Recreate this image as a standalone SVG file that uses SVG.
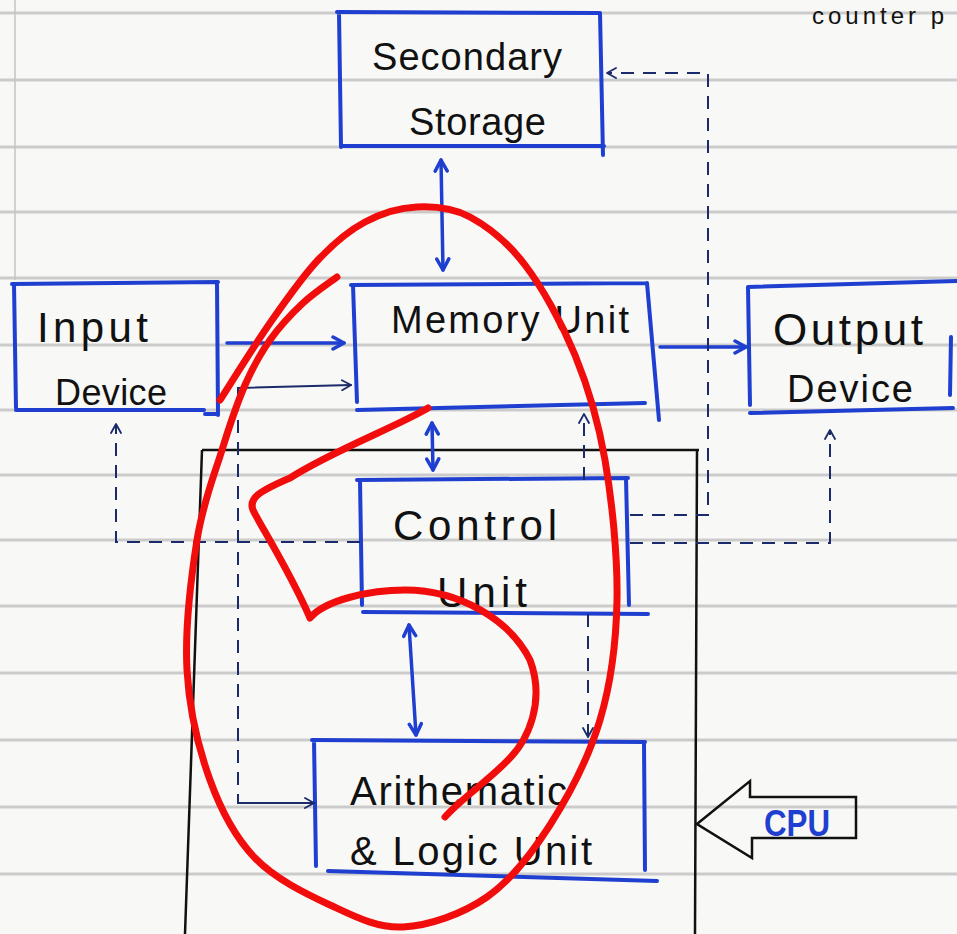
<svg xmlns="http://www.w3.org/2000/svg" width="957" height="934" viewBox="0 0 957 934">
<style>
.paper{stroke:#b9b9b9;stroke-width:3;opacity:0.7}
.box{fill:none;stroke:#1f3fd0;stroke-width:4;stroke-linecap:round;stroke-linejoin:round}
.lbl{font-family:"Liberation Sans",Arial,sans-serif;fill:#111}
.blue{fill:none;stroke:#1f3fd0;stroke-width:3.5;stroke-linecap:round}
.thin{fill:none;stroke:#1b2a6b;stroke-width:2;stroke-linecap:round}
.dash{fill:none;stroke:#1b2a6b;stroke-width:2;stroke-dasharray:13 9}
.cpu{fill:none;stroke:#111;stroke-width:2.5;stroke-linejoin:miter}
.red{fill:none;stroke:#f20d0d;stroke-width:7;stroke-linecap:round;stroke-linejoin:round}
</style>
<defs>
<marker id="hb" viewBox="0 0 16 16" refX="14" refY="8" markerWidth="16" markerHeight="16" markerUnits="userSpaceOnUse" orient="auto-start-reverse">
<path d="M3,2 L14,8 L3,14" fill="none" stroke="#1f3fd0" stroke-width="3.5" stroke-linecap="round" stroke-linejoin="round"/>
</marker>
<marker id="hn" viewBox="0 0 12 12" refX="11" refY="6" markerWidth="12" markerHeight="12" markerUnits="userSpaceOnUse" orient="auto-start-reverse">
<path d="M2,1 L11,6 L2,11" fill="none" stroke="#1b2a6b" stroke-width="1.8" stroke-linecap="round" stroke-linejoin="round"/>
</marker>
</defs>
<rect x="0" y="0" width="957" height="934" fill="#f8f8f6"/>
<g id="paper">
<path class="paper" d="M0,13 H957 M0,80 H957 M0,147 H957 M0,212 H957 M0,278 H957 M0,345 H957 M0,410 H957 M0,475 H957 M0,540 H957 M0,606 H957 M0,673 H957 M0,740 H957 M0,807 H957 M0,874 H957"/>
<path d="M15,0 L15,280" stroke="#c4c4c4" stroke-width="1.5"/>
<text class="lbl" x="812" y="24" font-size="24" textLength="132">counter p</text>
</g>
<g id="cpu-box">
<path class="cpu" d="M202,450 L699,450 M697,450 L695,934 M202,450 L185,934"/>
</g>
<g id="secondary-storage">
<path class="box" d="M337,12 L599,13 M339,13 L341,147 M600,13 L603,155 M343,146 L604,146"/>
<text class="lbl" x="372" y="70" font-size="38" textLength="190">Secondary</text>
<text class="lbl" x="409" y="135" font-size="38" textLength="137">Storage</text>
</g>
<g id="memory-unit">
<path class="box" d="M351,285 L647,283 M353,285 L357,402 M647,283 L659,420 M357,410 L645,403"/>
<text class="lbl" x="391" y="333" font-size="38" textLength="238">Memory Unit</text>
</g>
<g id="input-device">
<path class="box" d="M12,284 L218,282 M14,284 L16,408 M16,410 L204,410 M205,414 L217,414 M217,283 L218,415"/>
<text class="lbl" x="37" y="342" font-size="42" textLength="111">Input</text>
<text class="lbl" x="55" y="405" font-size="36" textLength="112">Device</text>
</g>
<g id="output-device">
<path class="box" d="M748,287 L957,281 M748,287 L750,405 M750,413 L953,408 M951,337 L950,395"/>
<text class="lbl" x="773" y="345" font-size="44" textLength="150">Output</text>
<text class="lbl" x="787" y="402" font-size="38" textLength="126">Device</text>
</g>
<g id="control-unit">
<path class="box" d="M357,480 L628,478 M360,480 L362,605 M626,478 L629,605 M363,612 L648,614"/>
<text class="lbl" x="393" y="540" font-size="42" textLength="164">Control</text>
<text class="lbl" x="437" y="607" font-size="42" textLength="90">Unit</text>
</g>
<g id="alu">
<path class="box" d="M312,740 L645,742 M314,740 L316,866 M644,742 L645,870 M328,871 L657,881"/>
<text class="lbl" x="350" y="805" font-size="40" textLength="217">Arithematic</text>
<text class="lbl" x="350" y="865" font-size="40" textLength="242">&amp; Logic Unit</text>
</g>
<g id="cpu-label">
<path class="cpu" d="M697,824 L750,781 L750,797 L856,797 L856,838 L752,838 L752,858 Z"/>
<text x="764" y="836" font-family="Liberation Sans,Arial,sans-serif" font-weight="bold" font-size="36" fill="#1f3fd0" textLength="66" lengthAdjust="spacingAndGlyphs">CPU</text>
</g>
<g id="connectors">
<path class="blue" d="M441,160 L443,270" marker-start="url(#hb)" marker-end="url(#hb)"/>
<path class="blue" d="M432,423 L433,470" marker-start="url(#hb)" marker-end="url(#hb)"/>
<path class="blue" d="M409,625 L416,735" marker-start="url(#hb)" marker-end="url(#hb)"/>
<path class="blue" d="M227,343 L344,343" marker-end="url(#hb)"/>
<path class="blue" d="M660,347 L746,347" marker-end="url(#hb)"/>
<path class="thin" d="M238,394 L238,388 L351,385" marker-end="url(#hn)"/>
<path class="dash" d="M238,398 L238,798"/>
<path class="thin" d="M238,796 L238,803 L314,803" marker-end="url(#hn)"/>
<path class="dash" d="M360,542 L116,542 L116,424" marker-end="url(#hn)"/>
<path class="dash" d="M630,543 L830,543 L830,430" marker-end="url(#hn)"/>
<path class="dash" d="M630,515 L708,515 L708,73 L607,73" marker-end="url(#hn)"/>
<path class="dash" d="M584,480 L584,414" marker-end="url(#hn)"/>
<path class="dash" d="M588,614 L588,737" marker-end="url(#hn)"/>
</g>
<g id="annotation">
<path class="red" d="M337,277 C331.3,281.3 314.2,292.5 303,303 C291.8,313.5 279.7,326.3 270,340 C260.3,353.7 253,366.7 245,385 C237,403.3 230,424.2 222,450 C214,475.8 202.8,503.3 197,540 C191.2,576.7 184.8,630 187,670 C189.2,710 198.7,748.7 210,780 C221.3,811.3 235,837.2 255,858 C275,878.8 305.3,893.5 330,905 C354.7,916.5 376.8,928.3 403,927 C429.2,925.7 462.5,914 487,897 C511.5,880 531.2,854.5 550,825 C568.8,795.5 588.8,757.5 600,720 C611.2,682.5 616.2,643.3 617,600 C617.8,556.7 612,500.8 605,460 C598,419.2 588.3,387.5 575,355 C561.7,322.5 542.5,288 525,265 C507.5,242 488,226.7 470,217 C452,207.3 434.5,206.2 417,207 C399.5,207.8 381.5,213.2 365,222 C348.5,230.8 333.8,243.2 318,260 C302.2,276.8 286.3,299.7 270,323 C253.7,346.3 228.3,387.2 220,400"/>
<path class="red" d="M428,408 C398,426 330,452 290,478 C262,490 246,498 254,512 C262,528 290,572 310,618 C325,600 370,590 405,590 C460,590 510,620 530,660 C545,700 530,740 505,763 C485,783 460,800 445,817"/>
</g>
</svg>
